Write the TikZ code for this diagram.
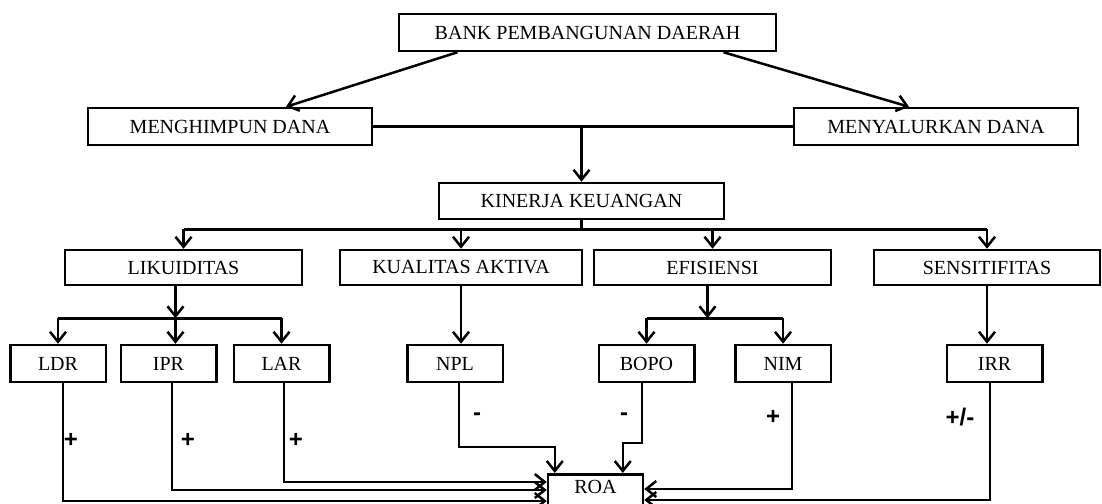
\documentclass[tikz,border=0pt]{standalone}
\usepackage{fontspec}
\setmainfont{Liberation Serif}
\newfontfamily\signfont{Liberation Sans}
\usetikzlibrary{arrows.meta,positioning,calc}

\tikzset{
  box/.style={draw, line width=1.25pt, inner sep=0pt, font=\fontsize{10}{12}\selectfont},
  aspek/.style={box, minimum height=17.5pt},
  rasio/.style={box, minimum width=47.75pt, minimum height=18.5pt},
  sign/.style={font=\signfont\fontsize{12}{14}\selectfont\bfseries, inner sep=0pt},
}

\begin{document}
\begin{tikzpicture}[x=0.5pt,y=-0.5pt,line width=1.25pt,>={Straight Barb[length=5pt,width=8pt]}]
\useasboundingbox (0,0) rectangle (1102,503);

% top levels
\node[box, minimum width=188.5pt, minimum height=18.5pt] (bank) at (587.5,32.5) {BANK PEMBANGUNAN DAERAH};
\node[box, minimum width=142pt, minimum height=18.5pt] (himpun) at (230,126.5) {MENGHIMPUN DANA};
\node[box, minimum width=142pt, minimum height=18.5pt] (salur) at (936,126.5) {MENYALURKAN DANA};
\node[box, minimum width=142.5pt, minimum height=18pt] (kinerja) at (581.5,201) {KINERJA KEUANGAN};

\draw[->] ($(bank.south)+(-130,0)$) -- ($(himpun.north)+(56,0)$);
\draw[->] ($(bank.south)+(136,0)$) -- ($(salur.north)+(-27,0)$);
\draw (himpun) -- (salur);
\draw[->] (kinerja.north |- himpun.east) -- (kinerja.north);

% aspects
\node[aspek, minimum width=118.5pt] (likuid) at (183.5,267.5) {LIKUIDITAS};
\node[aspek, minimum width=121pt] (kualitas) at (461,267.5) {KUALITAS AKTIVA};
\node[aspek, minimum width=118.5pt] (efisiensi) at (712.5,267.5) {EFISIENSI};
\node[aspek, minimum width=113pt] (sensitif) at (987,267.5) {SENSITIFITAS};

\coordinate (k) at ($(kinerja.south)+(0,9)$);
\draw (kinerja.south) -- (k);
\draw (likuid.north |- k) -- (sensitif.north |- k);
\foreach \n in {likuid,kualitas,efisiensi,sensitif}
  \draw[->] (\n.north |- k) -- (\n.north);

% ratios
\node[rasio] (ldr) at (58,363.5) {LDR};
\node[rasio] (ipr) at (168.5,363.5) {IPR};
\node[rasio] (lar) at (281.5,363.5) {LAR};
\node[rasio] (npl) at (455,363.5) {NPL};
\node[rasio] (bopo) at (646.5,363.5) {BOPO};
\node[rasio] (nim) at (783,363.5) {NIM};
\node[rasio] (irr) at (994.5,363.5) {IRR};

\coordinate (l) at ($(likuid.south)+(-8,32)$);
\draw[->] ($(likuid.south)+(-8,0)$) -- (l);
\draw (ldr.north |- l) -- (lar.north |- l);
\draw[->] (l) -- (l |- ipr.north);
\foreach \n in {ldr,lar}
  \draw[->] (\n.north |- l) -- (\n.north);

\draw[->] (kualitas.south) -- (kualitas.south |- npl.north);

\coordinate (e) at ($(efisiensi.south)+(-5,32)$);
\draw[->] ($(efisiensi.south)+(-5,0)$) -- (e);
\draw (bopo.north |- e) -- (nim.north |- e);
\foreach \n in {bopo,nim}
  \draw[->] (\n.north |- e) -- (\n.north);

\draw[->] (sensitif.south) -- (sensitif.south |- irr.north);

% return on assets
\node[box, anchor=north, minimum width=47.5pt, text height=9.5pt, text depth=10pt] (roa) at (595.5,473) {ROA};

\draw[->] ($(ldr.south)+(5,0)$) |- ($(roa.north west)+(0,28)$);
\draw[->] ($(ipr.south)+(3.5,0)$) |- ($(roa.north west)+(0,17)$);
\draw[->] ($(lar.south)+(2.5,0)$) |- ($(roa.north west)+(0,9)$);
\draw[->] ($(npl.south)+(4,0)$) |- ($(roa.north west)+(8,-26)$) -- ($(roa.north west)+(8,0)$);
\draw[->] ($(bopo.south)+(-4.5,0)$) |- ($(roa.north west)+(76,-30)$) -- ($(roa.north west)+(76,0)$);
\draw[->] ($(nim.south)+(9,0)$) |- ($(roa.north east)+(0,16)$);
\draw[->] ($(irr.south)+(-4.5,0)$) |- ($(roa.north east)+(0,27)$);

\node[sign] (p1) at (71,440) {+};
\node[sign] (p2) at (188,440) {+};
\node[sign] (p3) at (296,440) {+};
\node[sign] (m1) at (477,417) {-};
\node[sign] (m2) at (624,417) {-};
\node[sign] (p4) at (773,417) {+};
\node[sign] (pm) at (960,417) {+/-};
\end{tikzpicture}
\end{document}
